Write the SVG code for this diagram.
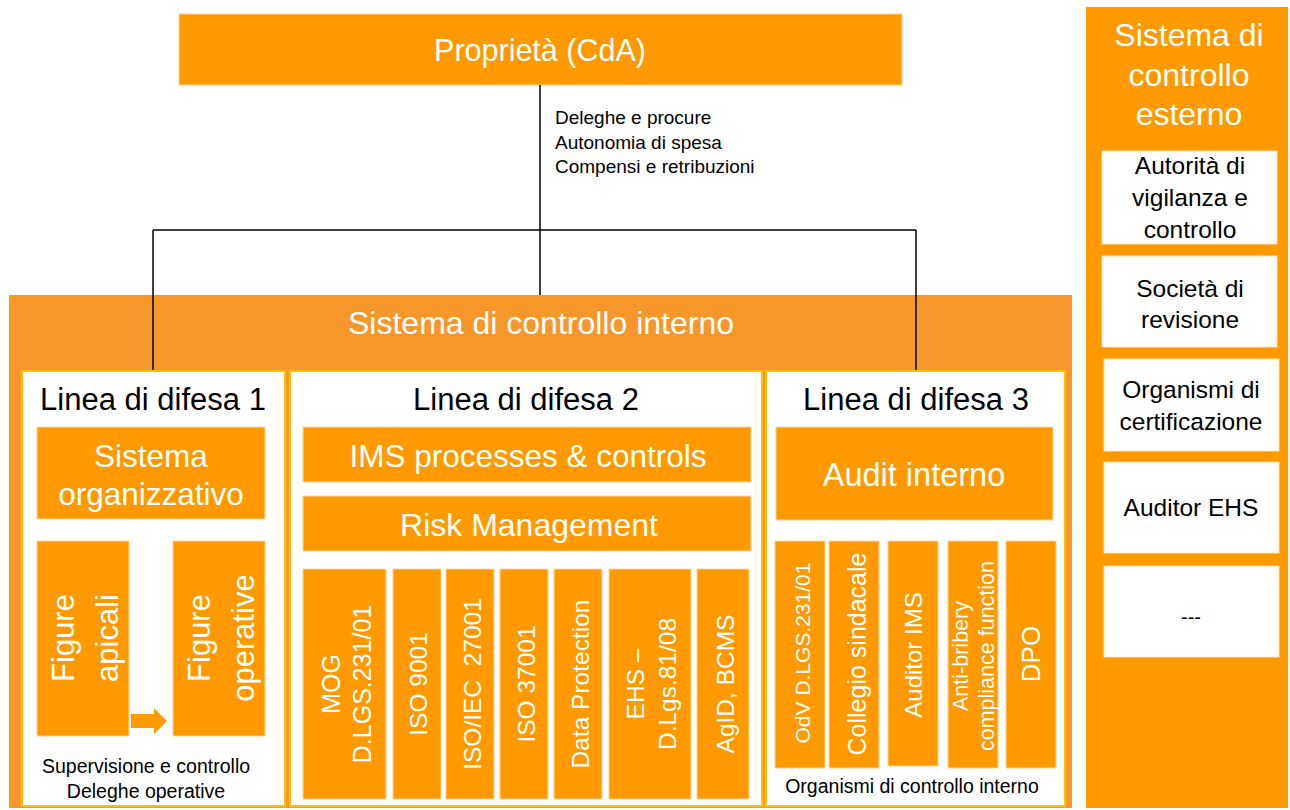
<svg xmlns="http://www.w3.org/2000/svg" width="1290" height="810" viewBox="0 0 1290 810">
<style>
text{font-family:"Liberation Sans",Arial,sans-serif}
.box{fill:#FF9900;stroke:#FFD49A;stroke-width:1}
.col{fill:#FFFFFF;stroke:#FFC000;stroke-width:2}
.ext{fill:#FFFFFF;stroke:#FFE2B8;stroke-width:1}
.wt{fill:#FFFFFF;text-anchor:middle}
.bt{fill:#000000;text-anchor:middle}
.conn{stroke:#000000;stroke-width:1.5;fill:none}
</style>
<rect width="1290" height="810" fill="#FFFFFF"/>

<g id="external">
<rect x="1086" y="7" width="202" height="801" fill="#FF9900"/>
<text class="wt" font-size="32" x="1189" y="46">Sistema di</text>
<text class="wt" font-size="32" x="1189" y="86">controllo</text>
<text class="wt" font-size="32" x="1189" y="125">esterno</text>
</g>
<g id="ext-autorita">
<rect class="ext" x="1102" y="151" width="175" height="93"/>
<text class="bt" font-size="24.5" x="1190" y="174">Autorità di</text>
<text class="bt" font-size="24.5" x="1190" y="206">vigilanza e</text>
<text class="bt" font-size="24.5" x="1190" y="238">controllo</text>
</g>
<g id="ext-societa">
<rect class="ext" x="1102" y="256" width="175" height="91"/>
<text class="bt" font-size="24.5" x="1190" y="297">Società di</text>
<text class="bt" font-size="24.5" x="1190" y="328">revisione</text>
</g>
<g id="ext-organismi">
<rect class="ext" x="1104" y="359" width="175" height="92"/>
<text class="bt" font-size="24.5" x="1191" y="398">Organismi di</text>
<text class="bt" font-size="24.5" x="1191" y="430">certificazione</text>
</g>
<g id="ext-auditor">
<rect class="ext" x="1104" y="462" width="175" height="91"/>
<text class="bt" font-size="24.5" x="1191" y="516">Auditor EHS</text>
</g>
<g id="ext-more">
<rect class="ext" x="1104" y="566" width="175" height="91"/>
<text class="bt" font-size="20" x="1191" y="624">---</text>
</g>

<g id="proprieta">
<rect class="box" x="179" y="14" width="723" height="71"/>
<text class="wt" font-size="30.5" x="540" y="61">Proprietà (CdA)</text>
</g>

<g id="internal">
<rect x="9" y="295" width="1063" height="513" fill="#F7972B"/>
<text class="wt" font-size="32" x="541" y="334">Sistema di controllo interno</text>
</g>

<g id="connectors">
<line class="conn" x1="540" y1="85" x2="540" y2="295"/>
<line class="conn" x1="153" y1="230" x2="916" y2="230"/>
<line class="conn" x1="153" y1="230" x2="153" y2="371"/>
<line class="conn" x1="916" y1="230" x2="916" y2="371"/>
<text font-size="19" x="555" y="124">Deleghe e procure</text>
<text font-size="19" x="555" y="149">Autonomia di spesa</text>
<text font-size="19" x="555" y="173">Compensi e retribuzioni</text>
</g>

<g id="linea1">
<rect class="col" x="22" y="371" width="263" height="435"/>
<text class="bt" font-size="31" x="153" y="410">Linea di difesa 1</text>
</g>
<g id="sistema-organizzativo">
<rect class="box" x="37" y="427" width="228" height="92"/>
<text class="wt" font-size="31.5" x="151" y="467">Sistema</text>
<text class="wt" font-size="31.5" x="151" y="505">organizzativo</text>
</g>
<g id="figure-apicali">
<rect class="box" x="37" y="541" width="92" height="195"/>
<text class="wt" font-size="31" dominant-baseline="central" transform="translate(83,638) rotate(-90)"><tspan x="0" y="-20">Figure</tspan><tspan x="0" y="24">apicali</tspan></text>
</g>
<g id="figure-operative">
<rect class="box" x="173" y="541" width="92" height="195"/>
<text class="wt" font-size="31" dominant-baseline="central" transform="translate(219,638) rotate(-90)"><tspan x="0" y="-20">Figure</tspan><tspan x="0" y="24">operative</tspan></text>
</g>
<g id="arrow-figure">
<polygon points="131,714 154,714 154,708 167,721 154,734 154,728 131,728" fill="#FF9900"/>
</g>
<text class="bt" font-size="19.5" x="146" y="773">Supervisione e controllo</text>
<text class="bt" font-size="19.5" x="146" y="798">Deleghe operative</text>

<g id="linea2">
<rect class="col" x="290" y="371" width="472" height="435"/>
<text class="bt" font-size="31" x="526" y="410">Linea di difesa 2</text>
</g>
<g id="ims">
<rect class="box" x="303" y="427" width="448" height="55"/>
<text class="wt" font-size="31.5" x="528" y="467">IMS processes &amp; controls</text>
</g>
<g id="risk">
<rect class="box" x="303" y="496" width="448" height="55"/>
<text class="wt" font-size="32" x="529" y="536">Risk Management</text>
</g>
<g id="mog">
<rect class="box" x="303" y="569" width="83" height="230"/>
<text class="wt" font-size="25" dominant-baseline="central" transform="translate(345,684) rotate(-90)"><tspan x="0" y="-14">MOG</tspan><tspan x="0" y="17">D.LGS.231/01</tspan></text>
</g>
<g id="iso9001">
<rect class="box" x="393" y="569" width="48" height="230"/>
<text class="wt" font-size="24.5" dominant-baseline="central" transform="translate(418,684) rotate(-90)">ISO 9001</text>
</g>
<g id="iso27001">
<rect class="box" x="446" y="569" width="48" height="230"/>
<text class="wt" font-size="24.5" dominant-baseline="central" transform="translate(472,684) rotate(-90)" xml:space="preserve">ISO/IEC  27001</text>
</g>
<g id="iso37001">
<rect class="box" x="500" y="569" width="48" height="230"/>
<text class="wt" font-size="24.5" dominant-baseline="central" transform="translate(526,684) rotate(-90)">ISO 37001</text>
</g>
<g id="dataprot">
<rect class="box" x="554" y="569" width="48" height="230"/>
<text class="wt" font-size="24.5" dominant-baseline="central" transform="translate(580,684) rotate(-90)">Data Protection</text>
</g>
<g id="ehs">
<rect class="box" x="609" y="569" width="82" height="230"/>
<text class="wt" font-size="24.5" dominant-baseline="central" transform="translate(651,684) rotate(-90)"><tspan x="0" y="-16">EHS –</tspan><tspan x="0" y="16">D.Lgs.81/08</tspan></text>
</g>
<g id="agid">
<rect class="box" x="697" y="569" width="52" height="230"/>
<text class="wt" font-size="24.5" dominant-baseline="central" transform="translate(725,684) rotate(-90)">AgID, BCMS</text>
</g>

<g id="linea3">
<rect class="col" x="766" y="371" width="299" height="435"/>
<text class="bt" font-size="31" x="916" y="410">Linea di difesa 3</text>
</g>
<g id="audit">
<rect class="box" x="776" y="427" width="277" height="93"/>
<text class="wt" font-size="32.5" x="914" y="486">Audit interno</text>
</g>
<g id="odv">
<rect class="box" x="775" y="541" width="50" height="227"/>
<text class="wt" font-size="21" dominant-baseline="central" transform="translate(802,653) rotate(-90)">OdV D.LGS.231/01</text>
</g>
<g id="collegio">
<rect class="box" x="829" y="541" width="50" height="227"/>
<text class="wt" font-size="25" dominant-baseline="central" transform="translate(857,654) rotate(-90)">Collegio sindacale</text>
</g>
<g id="auditor-ims">
<rect class="box" x="888" y="541" width="50" height="225"/>
<text class="wt" font-size="24" dominant-baseline="central" transform="translate(913,655) rotate(-90)">Auditor IMS</text>
</g>
<g id="antibribery">
<rect class="box" x="948" y="541" width="50" height="227"/>
<text class="wt" font-size="21.5" dominant-baseline="central" transform="translate(973,656) rotate(-90)"><tspan x="0" y="-12">Anti-bribery</tspan><tspan x="0" y="14">compliance function</tspan></text>
</g>
<g id="dpo">
<rect class="box" x="1006" y="541" width="50" height="227"/>
<text class="wt" font-size="26" dominant-baseline="central" transform="translate(1031,654) rotate(-90)">DPO</text>
</g>
<text class="bt" font-size="19.5" x="912" y="793">Organismi di controllo interno</text>
</svg>
